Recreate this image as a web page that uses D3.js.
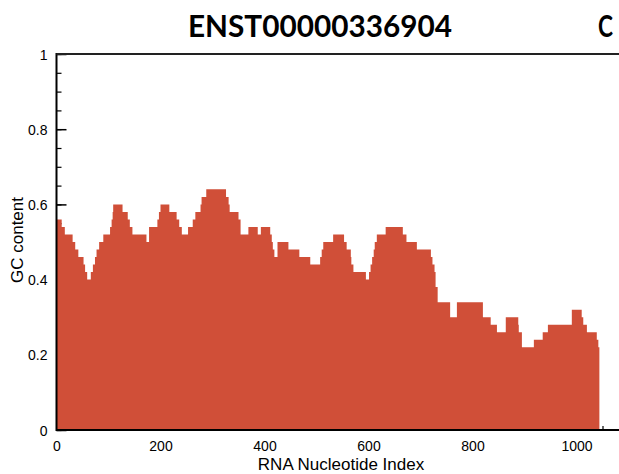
<!DOCTYPE html>
<html>
<head>
<meta charset="utf-8">
<script src="https://cdn.jsdelivr.net/npm/d3@7"></script>
<style>
  html, body { margin: 0; padding: 0; background: #fff; }
  svg { display: block; }
  .tick text { font-family: "Liberation Sans", Arial, sans-serif; font-size: 14px; fill: #000; }
</style>
</head>
<body>
<svg id="chart" width="619" height="474"></svg>
<script>
// Sliding-window GC content along the transcript (step profile)
const windowStart = [
  0, 10, 16, 31, 36, 42, 52, 55, 59, 66, 70, 74, 77, 82, 90, 103, 106, 108, 109,
  127, 137, 141, 146, 173, 178, 194, 197, 200, 217, 231, 236, 241, 253, 262, 267,
  277, 279, 288, 326, 331, 333, 350, 354, 369, 387, 393, 411, 414, 416, 419, 425,
  446, 467, 488, 507, 510, 513, 532, 553, 558, 566, 567, 571, 595, 601, 604, 607,
  610, 612, 616, 633, 666, 673, 693, 720, 723, 727, 729, 733, 757, 770, 820, 835,
  847, 864, 888, 889, 895, 918, 935, 945, 991, 1010, 1013, 1020, 1039, 1042
];
const gcContent = [
  0.56, 0.54, 0.52, 0.50, 0.48, 0.46, 0.44, 0.42, 0.40, 0.42, 0.44, 0.46, 0.48, 0.50, 0.52, 0.54, 0.56, 0.58, 0.60,
  0.58, 0.56, 0.54, 0.52, 0.50, 0.54, 0.56, 0.58, 0.60, 0.58, 0.56, 0.54, 0.52, 0.54, 0.56, 0.58,
  0.60, 0.62, 0.64, 0.62, 0.60, 0.58, 0.56, 0.52, 0.54, 0.52, 0.54, 0.52, 0.50, 0.48, 0.46, 0.50,
  0.48, 0.46, 0.44, 0.46, 0.48, 0.50, 0.52, 0.50, 0.48, 0.46, 0.44, 0.42, 0.40, 0.42, 0.44, 0.46,
  0.48, 0.50, 0.52, 0.54, 0.52, 0.50, 0.48, 0.46, 0.44, 0.42, 0.38, 0.34, 0.30, 0.34, 0.30, 0.28,
  0.26, 0.30, 0.28, 0.26, 0.22, 0.24, 0.26, 0.28, 0.32, 0.30, 0.28, 0.26, 0.24, 0.22
];
const seqEnd = 1044;

const xTickValues = [0, 200, 400, 600, 800, 1000];
const xMinorTicks = d3.range(0, 1101, 50);
const yTickValues = [0, 0.2, 0.4, 0.6, 0.8, 1];
const yMinorTicks = d3.range(0, 1.001, 0.05);

const titleText = "ENST00000336904";
const panelLetter = "C";
const xLabel = "RNA Nucleotide Index";
const yLabel = "GC content";

const svg = d3.select("#chart");

const x = d3.scaleLinear().domain([0, 1100]).range([56.5, 628.5]);
const y = d3.scaleLinear().domain([0, 1]).range([430, 54]);

const profile = windowStart.map((s, i) => ({ x: s, v: gcContent[i] }));
profile.push({ x: seqEnd, v: gcContent[gcContent.length - 1] });

// tick marks point into the plot and sit underneath the filled profile
const minorY = svg.append("g").attr("transform", `translate(${x(0)},0)`)
  .call(d3.axisLeft(y).tickValues(yMinorTicks).tickSize(-5).tickFormat(""));
minorY.select(".domain").remove();
minorY.selectAll("line").attr("stroke", "#000").attr("stroke-width", 1.2);

const majorY = svg.append("g").attr("transform", `translate(${x(0)},0)`)
  .call(d3.axisLeft(y).tickValues(yTickValues).tickSize(-10).tickPadding(9)
    .tickFormat(d => String(+d.toFixed(1))));
majorY.select(".domain").remove();
majorY.selectAll("line").attr("stroke", "#000").attr("stroke-width", 1.5);
majorY.selectAll("text").attr("dy", "0.36em");

const minorX = svg.append("g").attr("transform", `translate(0,${y(0)})`)
  .call(d3.axisBottom(x).tickValues(xMinorTicks).tickSize(-4).tickFormat(""));
minorX.select(".domain").remove();
minorX.selectAll("line").attr("stroke", "#000").attr("stroke-width", 1.2);

const majorX = svg.append("g").attr("transform", `translate(0,${y(0)})`)
  .call(d3.axisBottom(x).tickValues(xTickValues).tickSize(-8).tickPadding(11)
    .tickFormat(d3.format("d")));
majorX.select(".domain").remove();
majorX.selectAll("line").attr("stroke", "#000").attr("stroke-width", 1.5);

// filled GC profile
const area = d3.area()
  .x(d => x(d.x))
  .y0(y(0))
  .y1(d => y(d.v))
  .curve(d3.curveStepAfter);

svg.append("path")
  .datum(profile)
  .attr("d", area)
  .attr("fill", "#d04f38");

// plot frame (left, top, bottom)
svg.append("line").attr("x1", x(0)).attr("x2", x(0)).attr("y1", y(1) - 1).attr("y2", y(0) + 1)
  .attr("stroke", "#000").attr("stroke-width", 2);
svg.append("line").attr("x1", x(0)).attr("x2", 619).attr("y1", y(1)).attr("y2", y(1))
  .attr("stroke", "#222").attr("stroke-width", 2);
svg.append("line").attr("x1", x(0)).attr("x2", 619).attr("y1", y(0)).attr("y2", y(0))
  .attr("stroke", "#000").attr("stroke-width", 2);

// axis titles
svg.append("text")
  .attr("x", 341).attr("y", 470)
  .attr("text-anchor", "middle")
  .style("font-family", "'Liberation Sans', Arial, sans-serif")
  .style("font-size", "17px")
  .text(xLabel);

svg.append("text")
  .attr("transform", "translate(23,240) rotate(-90)")
  .attr("text-anchor", "middle")
  .style("font-family", "'Liberation Sans', Arial, sans-serif")
  .style("font-size", "17px")
  .text(yLabel);

// title and panel letter
svg.append("text")
  .attr("x", 188).attr("y", 37)
  .attr("textLength", 264).attr("lengthAdjust", "spacingAndGlyphs")
  .style("font-family", "Lato, 'Open Sans', sans-serif")
  .style("font-weight", "bold")
  .style("font-size", "30px")
  .text(titleText);

svg.append("text")
  .attr("x", 598).attr("y", 37)
  .attr("textLength", 15).attr("lengthAdjust", "spacingAndGlyphs")
  .style("font-family", "Lato, 'Open Sans', sans-serif")
  .style("font-weight", "bold")
  .style("font-size", "30px")
  .text(panelLetter);
</script>
</body>
</html>
